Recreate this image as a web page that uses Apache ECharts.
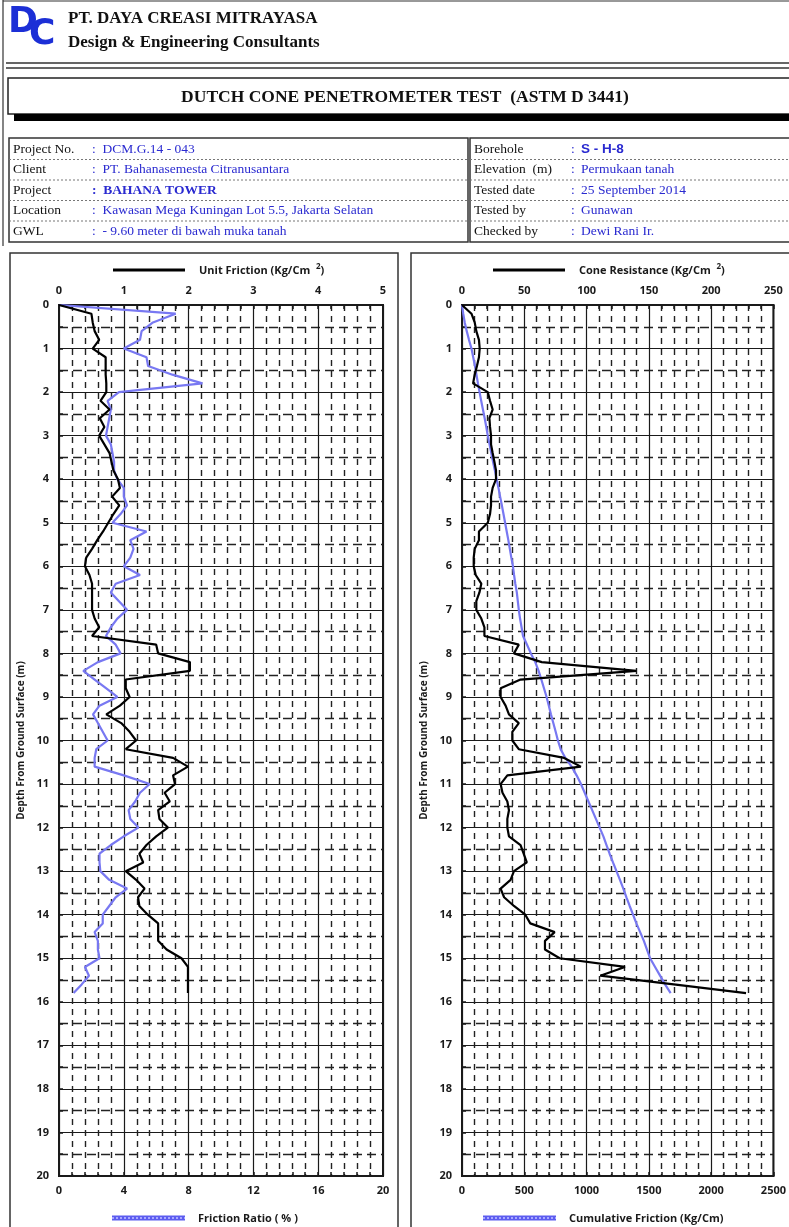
<!DOCTYPE html>
<html><head><meta charset="utf-8">
<script src="https://cdn.jsdelivr.net/npm/echarts@6/dist/echarts.min.js"></script>
<style>html,body{margin:0;padding:0;background:#fff}#c{width:789px;height:1227px}</style>
</head><body><div id="c"></div>
<script>
// ---------- DATA ----------
const depth = [0,0.2,0.4,0.6,0.8,1.0,1.2,1.4,1.6,1.8,2.0,2.2,2.4,2.6,2.8,3.0,3.2,3.4,3.6,3.8,
  4.0,4.2,4.4,4.6,4.8,5.0,5.2,5.4,5.6,5.8,6.0,6.2,6.4,6.6,6.8,7.0,7.2,7.4,7.6,7.8,
  8.0,8.2,8.4,8.6,8.8,9.0,9.2,9.4,9.6,9.8,10.0,10.2,10.4,10.6,10.8,11.0,11.2,11.4,11.6,11.8,
  12.0,12.2,12.4,12.6,12.8,13.0,13.2,13.4,13.6,13.8,14.0,14.2,14.4,14.6,14.8,15.0,15.2,15.4,15.6,15.8];
const unitFriction = [0,0.50,0.52,0.55,0.62,0.52,0.72,0.72,0.72,0.73,0.73,0.64,0.78,0.63,0.70,0.62,0.70,0.78,0.81,0.84,
  0.91,0.94,0.82,0.93,0.84,0.76,0.68,0.59,0.51,0.42,0.40,0.47,0.51,0.51,0.51,0.51,0.55,0.62,0.51,1.50,
  1.53,2.02,2.02,1.03,1.03,1.09,0.94,0.73,0.96,1.09,1.19,1.03,1.76,1.99,1.76,1.79,1.63,1.71,1.53,1.55,
  1.68,1.50,1.35,1.24,1.30,1.03,1.19,1.32,1.22,1.24,1.37,1.53,1.53,1.53,1.66,1.89,1.99,1.99,1.99,1.99];
const frictionRatio = [0,7.2,5.8,5.1,5.0,4.0,5.4,5.5,7.0,8.85,3.7,3.0,3.2,3.1,3.0,2.9,3.2,3.3,3.4,3.4,
  3.6,4.0,4.0,4.2,3.8,3.3,5.4,4.4,4.6,4.4,4.0,5.0,3.5,3.2,3.7,4.2,3.6,3.2,2.9,3.5,
  3.8,2.4,1.5,2.2,2.9,3.6,2.5,2.1,2.4,2.7,3.0,2.3,2.2,2.2,4.0,5.6,5.0,4.7,4.3,4.4,
  4.9,4.0,3.2,2.5,2.5,2.55,3.1,4.2,3.5,3.1,2.7,2.7,2.2,2.4,2.4,2.5,1.6,1.85,1.4,0.9];
const coneResistance = [0,7.6,10.2,11.5,13.6,14.2,13.6,12,10.2,8.9,20.7,22.5,24.6,22,22.5,23.3,23.3,24.6,26,27.3,
  27.3,24.6,23.3,23.3,22.5,20.7,13.6,13.6,10.2,9.4,9.4,11,15.5,14,11.5,11.5,15.5,18,18,45.6,
  41.7,64,140,47,31,31,35,37.7,45.6,40.4,40.4,45.6,82,95.4,36.4,31,32.5,36.4,37.7,36.4,
  36.4,37.7,47,49.5,52,41.7,39,31,33.8,41.7,50.8,54.8,74.4,66.6,66.6,78.4,130.8,111,170,228];
const cumulativeFriction = [0,10,22,38,56,76,90,104,116,128,141,154,168,182,195,207,221,235,249,264,
  278,293,306,320,333,346,359,372,384,396,409,418,428,440,448,456,466,478,490,522,
  553,588,615,637,658,679,697,714,733,752,770,792,830,880,920,955,985,1015,1045,1075,
  1105,1135,1160,1185,1212,1240,1268,1295,1320,1346,1373,1400,1430,1460,1485,1510,1550,1590,1630,1675];
const depthTicks = [0,1,2,3,4,5,6,7,8,9,10,11,12,13,14,15,16,17,18,19,20];
const infoLeft = [["Project No.","DCM.G.14 - 043"],["Client","PT. Bahanasemesta Citranusantara"],["Project","BAHANA TOWER"],["Location","Kawasan Mega Kuningan Lot 5.5, Jakarta Selatan"],["GWL","- 9.60 meter di bawah muka tanah"]];
const infoRight = [["Borehole","S - H-8"],["Elevation  (m)","Permukaan tanah"],["Tested date","25 September 2014"],["Tested by","Gunawan"],["Checked by","Dewi Rani Ir."]];

// ---------- CHART ----------
const chart = echarts.init(document.getElementById('c'), null, {renderer:'canvas'});
const SANS = 'Open Sans', SERIF = 'Liberation Serif';
const BLUE = '#7878f2', INK = '#1a1a1a', VAL = '#2a2ad0';
const lbl = {fontFamily:SANS, fontWeight:'bold', fontSize:11, color:INK};

function xAx(grid, pos, max, interval, withSplit){
  return {type:'value', gridIndex:grid, position:pos, min:0, max:max, interval:interval,
    axisLine:{show:true, onZero:false, lineStyle:{color:INK, width:2}},
    axisTick:{show:true, length:4, inside:true, lineStyle:{color:INK,width:1.5}},
    minorTick:{show:true, splitNumber:5, length:4, lineStyle:{color:INK,width:1.5}},
    axisLabel:Object.assign({margin:9, showMaxLabel:true, formatter:v=>String(v)}, lbl),
    splitLine:{show:withSplit, lineStyle:{color:INK, width:1.2}},
    minorSplitLine:{show:withSplit, lineStyle:{color:'#222', width:1.4, type:[6,5]}}};
}
function yAx(grid){
  return {type:'value', gridIndex:grid, inverse:true, min:0, max:20, interval:1,
    name:'Depth From Ground Surface (m)', nameLocation:'middle', nameGap:33, nameRotate:90,
    nameTextStyle:{fontFamily:SANS, fontWeight:'bold', fontSize:10, color:INK},
    axisLine:{show:true, lineStyle:{color:INK, width:2}},
    axisTick:{show:true, length:4, inside:true, lineStyle:{color:INK,width:1.5}},
    minorTick:{show:true, splitNumber:2, length:4, lineStyle:{color:INK,width:1.5}},
    axisLabel:Object.assign({margin:10, formatter:v=>depthTicks.includes(v)?String(v):''}, lbl),
    splitLine:{show:true, lineStyle:{color:INK, width:1.2}},
    minorSplitLine:{show:true, lineStyle:{color:'#222', width:1.4, type:[9,5]}}};
}

const g = [];
// page frame and header
g.push({type:'line', shape:{x1:3,y1:0,x2:3,y2:246}, style:{stroke:'#333', lineWidth:1.2}});
g.push({type:'line', shape:{x1:3,y1:1,x2:789,y2:1}, style:{stroke:'#333', lineWidth:1}});
g.push({type:'text', left:8, top:5, style:{text:'D', font:'bold 36px "DejaVu Sans"', fill:'#1c2fd6'}});
g.push({type:'text', left:29, top:17, style:{text:'C', font:'bold 36px "DejaVu Sans"', fill:'#1c2fd6'}});
g.push({type:'text', left:68, top:10, style:{text:'PT. DAYA CREASI MITRAYASA', font:'bold 17px "Liberation Serif"', fill:'#111'}});
g.push({type:'text', left:68, top:34, style:{text:'Design & Engineering Consultants', font:'bold 17px "Liberation Serif"', fill:'#111'}});
g.push({type:'line', shape:{x1:6,y1:63,x2:789,y2:63}, style:{stroke:'#333', lineWidth:1.5}});
g.push({type:'line', shape:{x1:6,y1:68,x2:789,y2:68}, style:{stroke:'#333', lineWidth:1.5}});
g.push({type:'rect', shape:{x:8,y:78,width:800,height:36}, style:{fill:'#fff', stroke:'#222', lineWidth:1.5}});
g.push({type:'rect', shape:{x:14,y:114,width:800,height:7}, style:{fill:'#000'}});
g.push({type:'text', x:405, y:97, style:{text:'DUTCH CONE PENETROMETER TEST  (ASTM D 3441)', font:'bold 17.5px "Liberation Serif"', fill:'#111', textAlign:'center', textVerticalAlign:'middle'}});
// info tables
const rowY = [139,159.5,180,200.5,221,241.5];
g.push({type:'rect', shape:{x:9,y:138,width:459,height:104}, style:{fill:'none', stroke:'#333', lineWidth:1.5}});
g.push({type:'rect', shape:{x:470,y:138,width:330,height:104}, style:{fill:'none', stroke:'#333', lineWidth:1.5}});
for (let r=1;r<5;r++){
  g.push({type:'line', shape:{x1:9,y1:rowY[r],x2:468,y2:rowY[r]}, style:{stroke:'#777', lineWidth:1, lineDash:[2,2]}});
  g.push({type:'line', shape:{x1:470,y1:rowY[r],x2:789,y2:rowY[r]}, style:{stroke:'#777', lineWidth:1, lineDash:[2,2]}});
}
infoLeft.forEach((row,i)=>{
  const cy = (rowY[i]+rowY[i+1])/2;
  g.push({type:'text', x:13, y:cy, style:{text:row[0], font:'13.5px "Liberation Serif"', fill:'#111', textVerticalAlign:'middle'}});
  const bold = row[0]==='Project';
  g.push({type:'text', x:92, y:cy, style:{text:':  '+row[1], font:(bold?'bold 13.5px':'13.5px')+' "Liberation Serif"', fill:VAL, textVerticalAlign:'middle'}});
});
infoRight.forEach((row,i)=>{
  const cy = (rowY[i]+rowY[i+1])/2;
  g.push({type:'text', x:474, y:cy, style:{text:row[0], font:'13.5px "Liberation Serif"', fill:'#111', textVerticalAlign:'middle'}});
  const bh = row[0]==='Borehole';
  g.push({type:'text', x:571, y:cy, style:{text:':  ', font:'13.5px "Liberation Serif"', fill:VAL, textVerticalAlign:'middle'}});
  g.push({type:'text', x:581, y:cy, style:{text:row[1], font:bh?'bold 13.5px "Liberation Sans"':'13.5px "Liberation Serif"', fill:VAL, textVerticalAlign:'middle'}});
});
// chart panels
g.push({type:'rect', shape:{x:10,y:253,width:388,height:990}, style:{fill:'none', stroke:'#333', lineWidth:1.5}});
g.push({type:'rect', shape:{x:411,y:253,width:390,height:990}, style:{fill:'none', stroke:'#333', lineWidth:1.5}});
// legends
function legend(x1, y, text, isBlue){
  if (isBlue){
    g.push({type:'line', shape:{x1:x1,y1:y,x2:x1+73,y2:y}, style:{stroke:'#5c5cf0', lineWidth:5}});
    g.push({type:'line', shape:{x1:x1,y1:y,x2:x1+73,y2:y}, style:{stroke:'#a8a8ff', lineWidth:2, lineDash:[2,2]}});
  } else {
    g.push({type:'line', shape:{x1:x1,y1:y,x2:x1+72,y2:y}, style:{stroke:'#000', lineWidth:3}});
  }
  g.push({type:'text', x:x1+86, y:y+1, style:{text:text, font:'bold 11px "Open Sans"', fill:INK, textVerticalAlign:'middle',
    rich:{s:{fontSize:8, fontWeight:'bold', fontFamily:SANS, verticalAlign:'top', padding:[0,0,8,0]}}}});
}
legend(113, 270, 'Unit Friction (Kg/Cm  {s|2})', false);
legend(112, 1218, 'Friction Ratio ( % )', true);
legend(493, 270, 'Cone Resistance (Kg/Cm  {s|2})', false);
legend(483, 1218, 'Cumulative Friction (Kg/Cm)', true);

const option = {
  backgroundColor:'#fff',
  animation:false,
  grid:[
    {left:59, top:305, width:324, height:871, show:true, borderColor:INK, borderWidth:2, backgroundColor:'transparent'},
    {left:462, top:305, width:318, height:871, show:true, borderColor:INK, borderWidth:2, backgroundColor:'transparent'}
  ],
  xAxis:[
    xAx(0,'top',5,1,true),
    xAx(0,'bottom',20,4,false),
    xAx(1,'top',250,50,true),
    xAx(1,'bottom',2500,500,false)
  ],
  yAxis:[yAx(0), yAx(1)],
  series:[
    {type:'line', name:'Unit Friction', xAxisIndex:0, yAxisIndex:0, showSymbol:false, z:5,
      lineStyle:{color:'#000', width:2.2}, data:depth.map((d,i)=>[unitFriction[i], d])},
    {type:'line', name:'Friction Ratio', xAxisIndex:1, yAxisIndex:0, showSymbol:false, z:4,
      lineStyle:{color:BLUE, width:2.2}, data:depth.map((d,i)=>[frictionRatio[i], d])},
    {type:'line', name:'Cone Resistance', xAxisIndex:2, yAxisIndex:1, showSymbol:false, z:5,
      lineStyle:{color:'#000', width:2.2}, data:depth.map((d,i)=>[coneResistance[i], d])},
    {type:'line', name:'Cumulative Friction', xAxisIndex:3, yAxisIndex:1, showSymbol:false, z:4,
      lineStyle:{color:BLUE, width:2.2}, data:depth.map((d,i)=>[cumulativeFriction[i], d])}
  ],
  graphic:g
};
chart.setOption(option);
</script></body></html>
